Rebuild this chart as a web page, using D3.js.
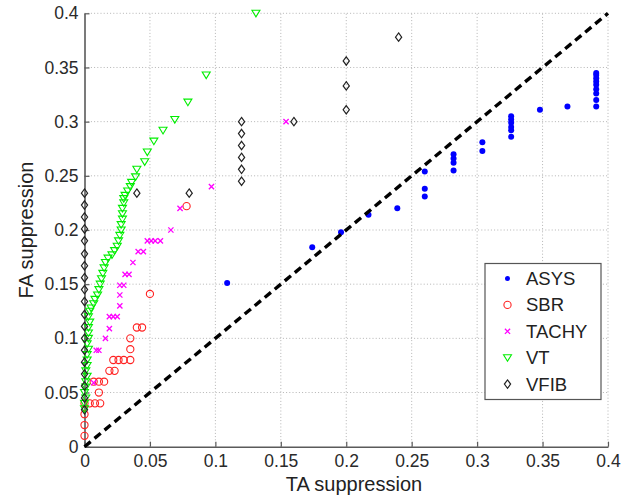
<!DOCTYPE html>
<html>
<head>
<meta charset="utf-8">
<script src="https://cdn.jsdelivr.net/npm/d3@7"></script>
<style>
  html, body { margin: 0; padding: 0; background: #fff; }
  svg { display: block; font-family: "Liberation Sans", Arial, sans-serif; }
</style>
</head>
<body>
<svg id="chart" width="632" height="495"></svg>
<script>
// ---------------- DATA ----------------
const seriesNames = ["ASYS", "SBR", "TACHY", "VT", "VFIB"];
const tickValues = [0, 0.05, 0.1, 0.15, 0.2, 0.25, 0.3, 0.35, 0.4];
const tickLabels = ["0", "0.05", "0.1", "0.15", "0.2", "0.25", "0.3", "0.35", "0.4"];
const xLabel = "TA suppression";
const yLabel = "FA suppression";

// [TA suppression, FA suppression]
const asys = [
  [0.109,0.151],[0.174,0.184],[0.196,0.198],[0.217,0.214],[0.239,0.220],
  [0.260,0.231],[0.260,0.238],[0.260,0.254],
  [0.282,0.255],[0.282,0.262],[0.282,0.266],[0.282,0.270],
  [0.304,0.273],[0.304,0.281],
  [0.326,0.286],[0.326,0.292],[0.326,0.295],[0.326,0.299],[0.326,0.302],[0.326,0.305],
  [0.348,0.311],[0.369,0.314],
  [0.391,0.314],[0.391,0.320],[0.391,0.326],[0.391,0.330],[0.391,0.334],
  [0.391,0.337],[0.391,0.340],[0.391,0.343],[0.391,0.345]
];
const sbr = [
  [0,0.01],[0,0.02],[0,0.03],[0,0.04],[0.004,0.04],[0.008,0.04],[0.012,0.04],
  [0.011,0.05],[0.007,0.06],[0.011,0.06],[0.015,0.06],[0.019,0.07],[0.023,0.07],
  [0.022,0.08],[0.026,0.08],[0.030,0.08],[0.035,0.08],[0.035,0.09],[0.035,0.10],
  [0.040,0.11],[0.044,0.11],[0.050,0.141],[0.078,0.222]
];
const tachy = [
  [0.007,0.059],[0.009,0.089],[0.011,0.089],[0.016,0.100],[0.019,0.109],
  [0.019,0.120],[0.022,0.120],[0.025,0.120],[0.027,0.130],[0.027,0.140],
  [0.027,0.149],[0.030,0.149],[0.031,0.159],[0.034,0.159],[0.037,0.170],
  [0.041,0.180],[0.045,0.180],[0.048,0.190],[0.051,0.190],[0.054,0.190],
  [0.058,0.190],[0.066,0.200],[0.073,0.220],[0.097,0.240],[0.154,0.300]
];
const vt = [
  [0,0.035],[0,0.040],[0.001,0.045],[0,0.050],[0.001,0.055],[0.001,0.060],
  [0.002,0.065],[0.001,0.070],[0.002,0.075],[0.002,0.080],[0.002,0.085],
  [0.003,0.090],[0.002,0.095],[0.003,0.100],[0.003,0.105],[0.003,0.110],
  [0.004,0.115],[0.003,0.120],[0.004,0.125],[0.005,0.128],[0.007,0.132],
  [0.008,0.136],[0.010,0.140],[0.011,0.145],[0.012,0.150],[0.013,0.155],
  [0.014,0.160],[0.015,0.165],[0.016,0.170],[0.018,0.174],[0.021,0.177],
  [0.023,0.181],[0.025,0.185],[0.026,0.190],[0.027,0.195],[0.028,0.200],
  [0.028,0.205],[0.029,0.210],[0.029,0.215],[0.029,0.220],[0.030,0.225],
  [0.030,0.229],[0.031,0.232],[0.033,0.236],[0.035,0.240],[0.036,0.244],
  [0.039,0.249],[0.040,0.256],[0.046,0.263],[0.048,0.272],[0.053,0.282],
  [0.060,0.292],[0.069,0.302],[0.079,0.318],[0.093,0.343],[0.131,0.400]
];
const vfib = [
  [0,0.034],[0,0.045],[0,0.056],[0,0.067],[0,0.078],[0,0.089],[0,0.100],
  [0,0.111],[0,0.122],[0,0.134],[0,0.145],[0,0.156],[0,0.167],[0,0.178],
  [0,0.190],[0,0.201],[0,0.212],[0,0.223],[0,0.234],
  [0.040,0.234],[0.080,0.234],
  [0.120,0.245],[0.120,0.256],[0.120,0.267],[0.120,0.278],[0.120,0.289],[0.120,0.300],
  [0.160,0.300],[0.200,0.311],[0.200,0.333],[0.200,0.356],[0.240,0.378]
];
const diagonal = [[0,0],[0.4,0.4]];

// ---------------- CHART ----------------
const svg = d3.select("#chart");
const x = d3.scaleLinear().domain([0, 0.4]).range([84.5, 608]);
const y = d3.scaleLinear().domain([0, 0.4]).range([446.7, 13.3]);
const fmt = d => tickLabels[tickValues.indexOf(d)];

// grid
const grid = svg.append("g").attr("stroke", "#b4b4b4").attr("stroke-width", 1)
  .attr("stroke-dasharray", "1,2.2");
grid.selectAll("line.gx").data(tickValues.slice(1)).join("line")
  .attr("x1", d => x(d)).attr("x2", d => x(d)).attr("y1", y(0)).attr("y2", y(0.4));
grid.selectAll("line.gy").data(tickValues.slice(1)).join("line")
  .attr("y1", d => y(d)).attr("y2", d => y(d)).attr("x1", x(0)).attr("x2", x(0.4));

// axes
const axisColor = "#5a5a5a";
const gx = svg.append("g").attr("transform", `translate(0,${y(0)})`)
  .call(d3.axisBottom(x).tickValues(tickValues).tickFormat(fmt).tickSize(-5).tickSizeOuter(0).tickPadding(8));
const gy = svg.append("g").attr("transform", `translate(${x(0)},0)`)
  .call(d3.axisLeft(y).tickValues(tickValues).tickFormat(fmt).tickSize(-5).tickSizeOuter(0).tickPadding(6));
[gx, gy].forEach(g => {
  g.select(".domain").attr("stroke", axisColor).attr("stroke-width", 1.6);
  g.selectAll(".tick line").attr("stroke", axisColor).attr("stroke-width", 1.2);
  g.selectAll(".tick text").attr("fill", "#2a2a2a").style("font-size", "17.5px")
    .style("font-family", '"Liberation Sans", Arial, sans-serif');
});

// axis labels
svg.append("text").attr("x", 354).attr("y", 490.5).attr("text-anchor", "middle")
  .style("font-size", "20px").attr("fill", "#222").text(xLabel);
svg.append("text").attr("transform", `translate(33,${(y(0)+y(0.4))/2}) rotate(-90)`)
  .attr("text-anchor", "middle").style("font-size", "20px").attr("fill", "#222").text(yLabel);

// marker drawers
const markers = {
  ASYS: (g) => g.append("circle").attr("r", 3).attr("fill", "#0000ff"),
  SBR: (g) => g.append("circle").attr("r", 3.6).attr("fill", "none").attr("stroke", "#ff2020").attr("stroke-width", 1.1),
  TACHY: (g) => g.append("path").attr("d", "M-2.6,-2.6L2.6,2.6M-2.6,2.6L2.6,-2.6")
    .attr("stroke", "#ff00ff").attr("stroke-width", 1.3).attr("fill", "none"),
  VT: (g) => g.append("path").attr("d", "M-4,-3L4,-3L0,3.6Z").attr("fill", "none")
    .attr("stroke", "#00ee00").attr("stroke-width", 1.1),
  VFIB: (g) => g.append("path").attr("d", "M0,-4.2L3.1,0L0,4.2L-3.1,0Z").attr("fill", "none")
    .attr("stroke", "#222").attr("stroke-width", 1.2)
};
const dataBy = { ASYS: asys, SBR: sbr, TACHY: tachy, VT: vt, VFIB: vfib };

seriesNames.forEach(name => {
  const g = svg.append("g").attr("class", name);
  g.selectAll("g").data(dataBy[name]).join("g")
    .attr("transform", d => `translate(${x(d[0])},${y(d[1])})`)
    .each(function () { markers[name](d3.select(this)); });
});

// diagonal
svg.append("path").datum(diagonal)
  .attr("d", d3.line().x(d => x(d[0])).y(d => y(d[1])))
  .attr("stroke", "#000").attr("stroke-width", 3.4).attr("stroke-dasharray", "8,5").attr("fill", "none");

// legend
const lg = svg.append("g");
lg.append("rect").attr("x", 485).attr("y", 263.5).attr("width", 116).attr("height", 136)
  .attr("fill", "#fff").attr("stroke", "#555").attr("stroke-width", 1.2);
seriesNames.forEach((name, i) => {
  const cy = 278.5 + i * 26.4;
  const mg = lg.append("g").attr("transform", `translate(507.5,${cy})`);
  markers[name](mg);
  if (name === "ASYS") mg.select("circle").attr("r", 2.5);
  lg.append("text").attr("x", 526).attr("y", cy + 6.5).style("font-size", "18.5px")
    .attr("fill", "#222").text(name);
});
</script>
</body>
</html>
